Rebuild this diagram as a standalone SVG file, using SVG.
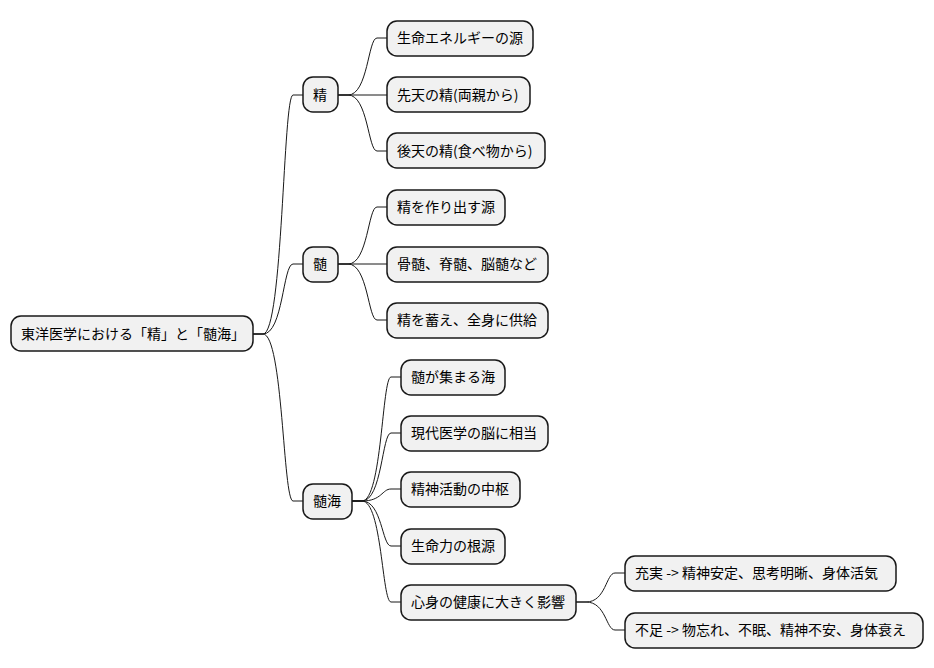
<svg xmlns="http://www.w3.org/2000/svg" width="934" height="668" viewBox="0 0 934 668">
<style>
.n rect{fill:#f1f1f1;stroke:#181818;stroke-width:1.5}
.n text{font-family:"Noto Sans CJK JP","Noto Sans",sans-serif;font-size:14px;fill:#000}
#c path{fill:none;stroke:#181818;stroke-width:1}
</style>
<rect width="934" height="668" fill="#fff"/>
<g id="c">
<path d="M253,334 H263 C283,334 283,95 293,95 H303"/>
<path d="M253,334 H263 C283,334 283,264 293,264 H303"/>
<path d="M253,334 H263 C283,334 283,501 293,501 H303"/>
<path d="M338,95 H348 C368,95 368,38 377,38 H387"/>
<path d="M338,95 H387"/>
<path d="M338,95 H348 C368,95 368,151 377,151 H387"/>
<path d="M338,264 H348 C368,264 368,207 377,207 H387"/>
<path d="M338,264 H387"/>
<path d="M338,264 H348 C368,264 368,320 377,320 H387"/>
<path d="M352,501 H362 C382,501 382,377 391,377 H401"/>
<path d="M352,501 H362 C382,501 382,433 391,433 H401"/>
<path d="M352,501 H362 C382,501 382,489 391,489 H401"/>
<path d="M352,501 H362 C382,501 382,546 391,546 H401"/>
<path d="M352,501 H362 C382,501 382,602 391,602 H401"/>
<path d="M576,602 H586 C606,602 606,573 615,573 H625"/>
<path d="M576,602 H586 C606,602 606,630 615,630 H625"/>
</g>
<g id="root" class="n"><rect x="11" y="316" width="242" height="35" rx="10"/><text x="21" y="339">東洋医学における「精」と「髄海」</text></g>
<g id="sei" class="n"><rect x="303" y="77" width="35" height="35" rx="10"/><text x="313" y="100">精</text></g>
<g id="zui" class="n"><rect x="303" y="247" width="35" height="35" rx="10"/><text x="313" y="269">髄</text></g>
<g id="zuikai" class="n"><rect x="303" y="484" width="49" height="35" rx="10"/><text x="313" y="506">髄海</text></g>
<g id="s1" class="n"><rect x="387" y="21" width="146" height="35" rx="10"/><text x="397" y="43">生命エネルギーの源</text></g>
<g id="s2" class="n"><rect x="387" y="77" width="143" height="35" rx="10"/><text x="397" y="100">先天の精(両親から)</text></g>
<g id="s3" class="n"><rect x="387" y="133" width="158" height="35" rx="10"/><text x="397" y="156">後天の精(食べ物から)</text></g>
<g id="z1" class="n"><rect x="387" y="190" width="118" height="35" rx="10"/><text x="397" y="212">精を作り出す源</text></g>
<g id="z2" class="n"><rect x="387" y="247" width="161" height="35" rx="10"/><text x="397" y="269">骨髄、脊髄、脳髄など</text></g>
<g id="z3" class="n"><rect x="387" y="303" width="161" height="35" rx="10"/><text x="397" y="325">精を蓄え、全身に供給</text></g>
<g id="k1" class="n"><rect x="401" y="360" width="104" height="35" rx="10"/><text x="411" y="382">髄が集まる海</text></g>
<g id="k2" class="n"><rect x="401" y="416" width="147" height="35" rx="10"/><text x="411" y="438">現代医学の脳に相当</text></g>
<g id="k3" class="n"><rect x="401" y="472" width="119" height="35" rx="10"/><text x="411" y="494">精神活動の中枢</text></g>
<g id="k4" class="n"><rect x="401" y="529" width="104" height="35" rx="10"/><text x="411" y="551">生命力の根源</text></g>
<g id="k5" class="n"><rect x="401" y="585" width="175" height="35" rx="10"/><text x="411" y="607">心身の健康に大きく影響</text></g>
<g id="g1" class="n"><rect x="625" y="556" width="271" height="35" rx="10"/><text x="635" y="578">充実 -&gt; 精神安定、思考明晰、身体活気</text></g>
<g id="g2" class="n"><rect x="625" y="613" width="298" height="35" rx="10"/><text x="635" y="635">不足 -&gt; 物忘れ、不眠、精神不安、身体衰え</text></g>
</svg>
